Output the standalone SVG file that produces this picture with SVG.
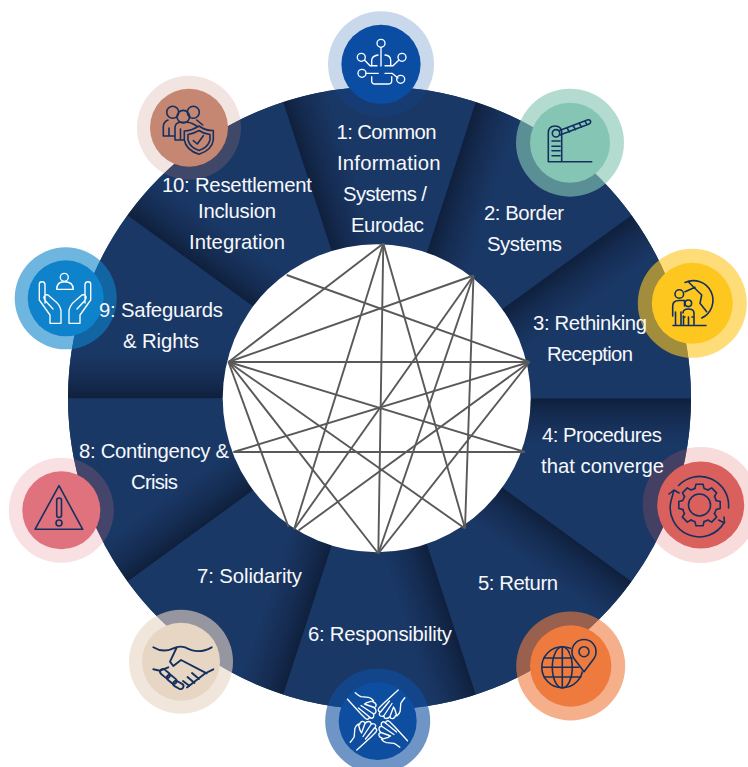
<svg xmlns="http://www.w3.org/2000/svg" width="748" height="767" viewBox="0 0 748 767">
<style>
text{font-family:"Liberation Sans",Arial,sans-serif;font-size:20.3px;fill:#f7f8fb}
.w{fill:url(#sec)}
.c line{stroke:#595959;stroke-width:1.9}
.in{fill:none;stroke:#14305f;stroke-width:1.6;stroke-linecap:round;stroke-linejoin:round}
.iw{fill:none;stroke:#fff;stroke-width:1.35;stroke-linecap:round;stroke-linejoin:round}
</style>
<defs>
<linearGradient id="sec" gradientUnits="userSpaceOnUse" x1="0" y1="0" x2="0" y2="46">
<stop offset="0" stop-color="#0f203c"/><stop offset=".4" stop-color="#152c52"/><stop offset="1" stop-color="#1a3866"/>
</linearGradient>
<path id="wedge" class="w" d="M0,0L311.5,0A311.5,311.5 0 0 1 252,183.1Z"/>
<path id="tooth" d="M-4.6,-16.6L-3.5,-20.7L3.5,-20.7L4.6,-16.6A17.2,17.2 0 0 1 8.48,-14.99"/>
<path id="hand" d="M-30,-20.7L-17,-6.5L-12,-1.5Q-9,.5 -8,-3Q-6,-.5 -4,-3Q-3,-5 -4.5,-6.5Q-1.5,-6 -1.5,-9Q-1.5,-11 -3.5,-12.5Q-1,-13 -1.5,-15.5Q-2,-17.5 -4.5,-18M-19,-12L-8,-3M-16.5,-14.5L-4.5,-6.5M-13,-16L-3.5,-12.5M-22.3,-27.3Q-19,-24.5 -16.7,-23.3L-9,-22.7Q-6,-22 -4,-19.3L-10.7,-17.3L-13,-16"/>
</defs>
<g id="sectors">
<circle cx="379.5" cy="398.3" r="311.5" fill="#1a3866"/>
<use href="#wedge" transform="translate(379.5,398.3)"/>
<use href="#wedge" transform="translate(379.5,398.3) rotate(36)"/>
<use href="#wedge" transform="translate(379.5,398.3) rotate(72)"/>
<use href="#wedge" transform="translate(379.5,398.3) rotate(108)"/>
<use href="#wedge" transform="translate(379.5,398.3) rotate(144)"/>
<use href="#wedge" transform="translate(379.5,398.3) rotate(180)"/>
<use href="#wedge" transform="translate(379.5,398.3) rotate(216)"/>
<use href="#wedge" transform="translate(379.5,398.3) rotate(252)"/>
<use href="#wedge" transform="translate(379.5,398.3) rotate(288)"/>
<use href="#wedge" transform="translate(379.5,398.3) rotate(324)"/>
</g>
<circle id="hub" cx="376.7" cy="398.2" r="154" fill="#fff"/>
<g id="connectors" class="c">
<line x1="286.7" y1="275" x2="529.5" y2="362"/>
<line x1="228.5" y1="362" x2="383.3" y2="243.5"/>
<line x1="228.5" y1="362" x2="473.5" y2="275.5"/>
<line x1="228.5" y1="362" x2="529.5" y2="362"/>
<line x1="228.5" y1="362" x2="525" y2="452"/>
<line x1="228.5" y1="362" x2="465" y2="528.5"/>
<line x1="228.5" y1="362" x2="378.3" y2="553.5"/>
<line x1="228.5" y1="362" x2="288.5" y2="527"/>
<line x1="233.5" y1="452" x2="525" y2="452"/>
<line x1="233.5" y1="452" x2="529.5" y2="362"/>
<line x1="383.3" y1="243.5" x2="294" y2="529.5"/>
<line x1="383.3" y1="243.5" x2="378.3" y2="553.5"/>
<line x1="383.3" y1="243.5" x2="465" y2="528.5"/>
<line x1="473.5" y1="275.5" x2="294" y2="529.5"/>
<line x1="473.5" y1="275.5" x2="378.3" y2="553.5"/>
<line x1="473.5" y1="275.5" x2="465" y2="528.5"/>
<line x1="529.5" y1="362" x2="298.5" y2="530.5"/>
<line x1="529.5" y1="362" x2="378.3" y2="553.5"/>
</g>
<g id="node1">
<circle cx="381" cy="64.3" r="53" fill="#0a4da3" opacity=".22"/><circle cx="381" cy="64.3" r="39.6" fill="#0a4da3"/>
<g class="iw"><circle cx="381" cy="43.3" r="4"/><circle cx="361.3" cy="57.3" r="4"/><circle cx="402" cy="57.3" r="4"/><circle cx="362" cy="73.3" r="4"/><circle cx="400.7" cy="79.3" r="4"/>
<path d="M381,47.5V66M371.7,66V60.5Q371.7,56 378,55M385,55Q390.7,55.5 390.7,60.5V66M364.5,60L370,65.7H377M399,60L393,65.7H385M366,73.3H378.3M385,73.3H392L398,78M371.7,76.7V81Q371.7,84 375,84H388Q391.7,84 391.7,81V76.7"/></g>
<text x="336.5" y="138.5" textLength="100">1: Common</text><text x="337" y="169.5" textLength="103.5">Information</text><text x="343" y="200.5" textLength="84">Systems /</text><text x="351" y="231.5" textLength="73">Eurodac</text>
</g>
<g id="node2">
<circle cx="570" cy="142.7" r="54" fill="#84c5b3" opacity=".62"/><circle cx="570" cy="142.7" r="40" fill="#84c5b3"/>
<g class="in"><path d="M548.3,161.7H591.7M548.3,161.7V133Q548.3,126 555,126Q561.7,126 561.7,133V161.7M552,141H560M552,146.3H560M552,150.7H560M552,155.7H560M559.5,130.5L588,119.7Q590.5,119.5 590.7,122Q590.5,123.5 589,124L560,135M567,128L569.5,132M573,125.5L575.5,129.7M579,123L581.5,127.2M585,121L587,125"/><circle cx="556" cy="133.3" r="3.7"/></g>
<text x="484" y="220" textLength="80">2: Border</text><text x="487" y="251" textLength="75">Systems</text>
</g>
<g id="node3">
<circle cx="692.3" cy="303.3" r="54.5" fill="#fec71f" opacity=".6"/><circle cx="692.3" cy="303.3" r="40.5" fill="#fec71f"/>
<g class="in"><path d="M685,282.5A19.5,19.5 0 0 1 701.7,318M688.3,281.7L693.3,286.7L701.7,295L700,303.3L706.7,311.7M685,291.7L695,287.3M673,325.5H706M672.7,316V306Q672.7,300.5 679,300.5H684.5M675.5,312V325.5M681,312V325.5M684.5,300.5V306M683.5,325.5V316M683,313Q683,309 688.3,309Q694,309 694,313V325.5M688.5,317V325.5M683,317H685M692,317H694"/><circle cx="679.3" cy="294" r="4.3"/><circle cx="688.3" cy="303.3" r="3.3"/></g>
<text x="533" y="330" textLength="114">3: Rethinking</text><text x="547" y="361" textLength="86">Reception</text>
</g>
<g id="node4">
<circle cx="700.7" cy="505" r="58" fill="#d9605c" opacity=".22"/><circle cx="700.7" cy="505" r="43.5" fill="#d9605c"/>
<g class="in" transform="translate(699.5,505)"><circle r="11"/>
<use href="#tooth"/><use href="#tooth" transform="rotate(45)"/><use href="#tooth" transform="rotate(90)"/><use href="#tooth" transform="rotate(135)"/><use href="#tooth" transform="rotate(180)"/><use href="#tooth" transform="rotate(225)"/><use href="#tooth" transform="rotate(270)"/><use href="#tooth" transform="rotate(315)"/>
<path d="M-21,-19.5A29,29 0 0 1 29,3M25,17A29,29 0 0 1 -28.5,-4L-25.5,-15M-25.5,-15L-20.5,-12M-25.5,-15L-30.5,-11M25,18L24.5,12M25,18L19,15"/></g>
<text x="542" y="442" textLength="120">4: Procedures</text><text x="541" y="473" textLength="123">that converge</text>
</g>
<g id="node5">
<circle cx="570.7" cy="666" r="54.5" fill="#ee7b3d" opacity=".6"/><circle cx="570.7" cy="666" r="40.7" fill="#ee7b3d"/>
<g class="in"><circle cx="562.3" cy="667.3" r="20.5"/><ellipse cx="562.3" cy="667.3" rx="10" ry="20.5"/><path d="M562.3,646.8V687.8M544,658H581M542,667.3H583M544,677H581"/>
<path fill="#ee7b3d" stroke="none" d="M584,674L570,654A14,14 0 0 1 598,654Z"/>
<path d="M584,671.7L574,658.5Q571.5,654.5 572,651.5A12,12 0 0 1 596,651.5Q596.5,654.5 594,658.5Z"/><circle cx="584" cy="651.7" r="5"/></g>
<text x="478" y="590" textLength="80">5: Return</text>
</g>
<g id="node6">
<circle cx="377.7" cy="721" r="52.5" fill="#0d4ea0" opacity=".6"/><circle cx="377.7" cy="721" r="39" fill="#0d4ea0"/>
<g class="iw" transform="translate(377.5,720)"><use href="#hand"/><use href="#hand" transform="rotate(90)"/><use href="#hand" transform="rotate(180)"/><use href="#hand" transform="rotate(270)"/></g>
<text x="308" y="641" textLength="144">6: Responsibility</text>
</g>
<g id="node7">
<circle cx="181" cy="661.7" r="52" fill="#e7d6c4" opacity=".6"/><circle cx="181" cy="661.7" r="39" fill="#e7d6c4"/>
<g class="in" style="stroke-width:1.9"><path d="M153.3,647.3Q163,653.3 173.3,648.3Q179,645.5 185,647.3Q198,655 211.7,647.3M176.7,647.5L170,661.7L173.3,666L181,660L206.7,673.3M153.3,669.3L160,670.7L168.3,667.3M213.3,669.3L205,673.5L187,687.5M192,673L199,679M187.5,677L194.5,683M183,681L189.5,686"/>
<rect x="-5.5" y="-2.8" width="11" height="5.6" rx="2.8" transform="translate(165,673.5) rotate(40)"/><rect x="-5.5" y="-2.8" width="11" height="5.6" rx="2.8" transform="translate(171.7,679.3) rotate(40)"/><rect x="-5.5" y="-2.8" width="11" height="5.6" rx="2.8" transform="translate(178.3,685) rotate(30)"/></g>
<text x="197" y="583" textLength="105">7: Solidarity</text>
</g>
<g id="node8">
<circle cx="61.3" cy="510.3" r="52.5" fill="#e0727e" opacity=".22"/><circle cx="61.3" cy="510.3" r="39" fill="#e0727e"/>
<g class="in"><path d="M59,485.7L82.7,529.3H35Z"/><rect x="56.7" y="498" width="4.8" height="19.5" rx="2.4"/><circle cx="59" cy="523" r="3"/></g>
<text x="79" y="458" textLength="150">8: Contingency &amp;</text><text x="131" y="489" textLength="47">Crisis</text>
</g>
<g id="node9">
<circle cx="65.7" cy="298.3" r="51" fill="#0e83cc" opacity=".6"/><circle cx="65.7" cy="298.3" r="38" fill="#0e83cc"/>
<g class="iw"><circle cx="64.3" cy="277.3" r="4"/><path d="M56.7,289.3Q56.7,281.7 64.3,281.7Q73.3,281.7 73.3,289.3Z"/>
<path id="hl" d="M39.3,284Q39.3,281.7 42,281.7Q45,281.7 45,285V303M39.3,284V300L50,315V323.3H61V310.7Q60,305 55,301L48,295Q44.5,294 44,297Q43.5,299 46.5,302L53,309"/>
<use href="#hl" transform="translate(130,0) scale(-1,1)"/></g>
<text x="99" y="317" textLength="124">9: Safeguards</text><text x="123" y="348" textLength="76">&amp; Rights</text>
</g>
<g id="node10">
<circle cx="189" cy="127.7" r="52" fill="#c58672" opacity=".22"/><circle cx="189" cy="127.7" r="39" fill="#c58672"/>
<g class="in"><circle cx="172.7" cy="112.3" r="6"/><circle cx="193.3" cy="112.3" r="6"/><circle cx="183.3" cy="116.7" r="6.3"/>
<path d="M163.3,136V126.7Q163.3,122 168,120M163.3,136H175M175,140V128Q175,123 180,122.3H187Q192,122.5 198,127M175,140H186M196.7,120L202.7,125M169,128V136M180.5,129V140"/>
<path fill="#c58672" d="M199,126Q191,131 184.3,131V140Q186,150 199,154.3Q212,150 213.3,140V130.5Q206,131 199,126Z"/>
<path d="M199,130.5Q193,134 188,134.5V140Q190,147.5 199,150.5Q208,147.5 210,140V134.5Q204,134 199,130.5ZM193.3,140.7L197.3,144L203.3,135.7"/></g>
<text x="162" y="191.5" textLength="150">10: Resettlement</text><text x="198" y="217.5" textLength="78">Inclusion</text><text x="189" y="248.5" textLength="96">Integration</text>
</g>
</svg>
